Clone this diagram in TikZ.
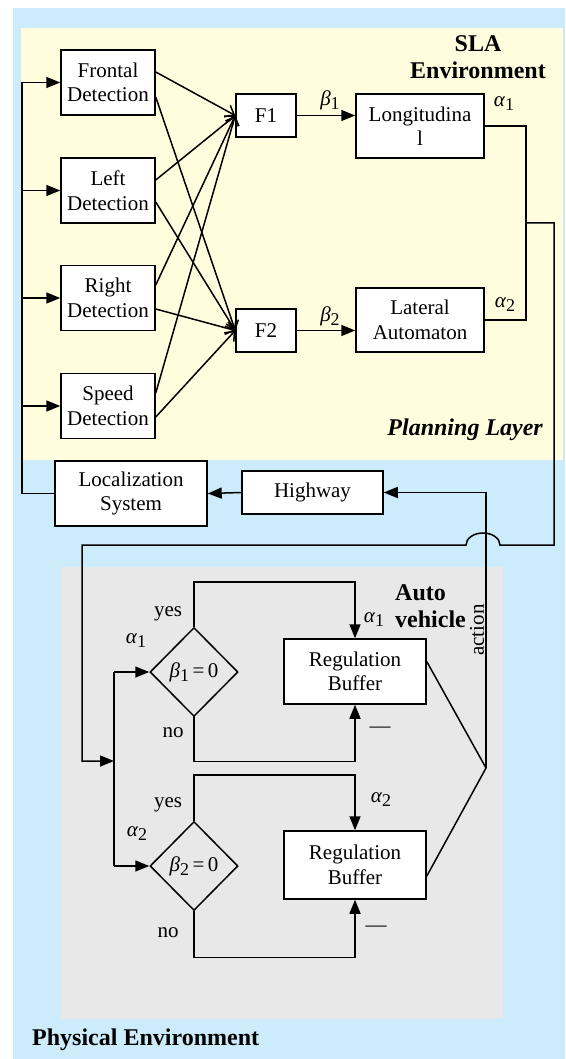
\documentclass[tikz,border=0pt]{standalone}
\usepackage{fontspec}
\setmainfont{Liberation Serif}
\usetikzlibrary{arrows.meta,shapes.geometric,calc}
\definecolor{bgblue}{RGB}{204,236,252}
\definecolor{bgyellow}{RGB}{255,253,221}
\definecolor{bggray}{RGB}{232,232,232}
\newcommand\gs[2]{\textit{#1}\raisebox{-4pt}{\fontsize{18}{18}\selectfont #2}}
\begin{document}
\begin{tikzpicture}[x=1pt,y=-1pt,
  txt/.style={font=\fontsize{21}{24.5}\selectfont, inner sep=0pt},
  blbl/.style={font=\fontsize{24}{27}\selectfont\bfseries, inner sep=0pt, align=center},
  box/.style={draw, fill=white, line width=1.5pt, align=center, inner sep=0pt,
              font=\fontsize{21}{24.5}\selectfont},
  dia/.style={diamond, draw, line width=1.5pt, inner sep=0pt,
              minimum width=88pt, minimum height=89pt, font=\fontsize{21}{24.5}\selectfont},
  wire/.style={line width=1.5pt},
  arr/.style={wire, -{Triangle[length=14pt,width=11pt]}},
  oarr/.style={wire, -{Straight Barb[length=8pt,width=13pt]}}
]
\path[use as bounding box] (0,0) rectangle (565,1059);
\fill[bgblue] (13,8) rectangle (565,1059);
\fill[bgyellow] (21,28) rectangle (563,460);
\fill[bggray] (61,567) rectangle (503,1019);

% boxes
\node[box, minimum width=94pt, minimum height=65pt] (front) at (108,82.5) {Frontal\\Detection};
\node[box, minimum width=94pt, minimum height=65pt] (left) at (108,190.5) {Left\\Detection};
\node[box, minimum width=94pt, minimum height=65pt] (right) at (108,298) {Right\\Detection};
\node[box, minimum width=94pt, minimum height=65pt] (speed) at (108,406) {Speed\\Detection};
\node[box, minimum width=60pt, minimum height=43pt] (f1) at (266,115.5) {F1};
\node[box, minimum width=60pt, minimum height=43pt] (f2) at (266,330.5) {F2};
\node[box, minimum width=128pt, minimum height=64pt] (long) at (420,126) {Longitudina\\l};
\node[box, minimum width=128pt, minimum height=64pt] (lat) at (420,320) {Lateral\\Automaton};
\node[box, minimum width=152pt, minimum height=65pt] (loc) at (131,493.5) {Localization\\System};
\node[box, minimum width=141pt, minimum height=43pt] (hw) at (312.5,492.5) {Highway};
\node[box, minimum width=142pt, minimum height=65pt] (rb1) at (355,671.5) {Regulation\\Buffer};
\node[box, minimum width=142pt, minimum height=68pt] (rb2) at (355,865) {Regulation\\Buffer};
\node[dia] (d1) at (194,672) {\gs{β}{1}\,=\,0};
\node[dia] (d2) at (194,866) {\gs{β}{2}\,=\,0};

% left bus
\coordinate (bx) at (22,0);
\draw[arr] (loc.west) -| (bx |- front.west) -- (front.west);
\draw[arr] (bx |- left.west) -- (left.west);
\draw[arr] (bx |- right.west) -- (right.west);
\draw[arr] (bx |- speed.west) -- (speed.west);

% detection -> fusion
\draw[oarr] ($(front.east)+(0,-10.5)$) -- (f1.west);
\draw[oarr] ($(front.east)+(0,14.5)$) -- (f2.west);
\draw[oarr] ($(left.east)+(0,-10.5)$) -- (f1.west);
\draw[oarr] ($(left.east)+(0,11.5)$) -- (f2.west);
\draw[oarr] ($(right.east)+(0,-13)$) -- (f1.west);
\draw[oarr] ($(right.east)+(0,11)$) -- (f2.west);
\draw[oarr] ($(speed.east)+(0,-13)$) -- (f1.west);
\draw[oarr] ($(speed.east)+(0,11)$) -- (f2.west);

% fusion -> automata
\draw[arr] (f1.east) -- (f1.east -| long.west);
\draw[arr] (f2.east) -- (f2.east -| lat.west);

% alpha outputs
\coordinate (jx) at (526,0);
\draw[wire] (long.east) -| (jx |- lat.east) -- (lat.east);
\coordinate (jm) at ($(jx |- long.east)!0.5!(jx |- lat.east)$);
\coordinate (feed) at (114,761);
\draw[arr] (jm) -- (554,0 |- jm) -- (554,545) -- (500,545)
  arc[start angle=0, end angle=-180, x radius=17, y radius=12]
  -- (82,545) -- (82,761) -- (feed);

% lower bus
\coordinate (lb) at (114,0);
\draw[wire] (lb |- d1.west) -- (lb |- d2.west);
\draw[arr] (lb |- d1.west) -- (d1.west);
\draw[arr] (lb |- d2.west) -- (d2.west);

% yes / no
\draw[arr] (d1.north) -- ++(0,-45) -| (rb1.north);
\draw[arr] (d1.south) -- ++(0,44) -| (rb1.south);
\draw[arr] (d2.north) -- ++(0,-46) -| (rb2.north);
\draw[arr] (d2.south) -- ++(0,46) -| (rb2.south);

% action
\coordinate (act) at (486,768);
\draw[wire] ($(rb1.north east)!0.35!(rb1.south east)$) -- (act) -- ($(rb2.north east)!0.66!(rb2.south east)$);
\draw[arr] (act) -- (act |- hw.east) -- (hw.east);
\draw[arr] (hw.west) -- (loc.east);

% labels
\node[txt, rotate=90] (actl) at (477,630) {action};
\node[txt] (b1) at (330,100) {\gs{β}{1}};
\node[txt] (b2) at (330,316) {\gs{β}{2}};
\node[txt] (a1t) at (504,104) {\gs{α}{1}};
\node[txt] (a2t) at (505,305) {\gs{α}{2}};
\node[txt] (yes1) at (168,614) {yes};
\node[txt] (no1) at (173,733) {no};
\node[txt] (yes2) at (168,805) {yes};
\node[txt] (no2) at (168,933) {no};
\node[txt] (a1l) at (136,641) {\gs{α}{1}};
\node[txt] (a2l) at (137,834) {\gs{α}{2}};
\node[txt] (a1r) at (374,620) {\gs{α}{1}};
\node[txt] (a2r) at (381,800) {\gs{α}{2}};
\node[txt] (m1) at (380,730) {—};
\node[txt] (m2) at (376,929) {—};

\node[blbl] (sla) at (478,57) {SLA\\Environment};
\node[blbl, font=\fontsize{24}{27}\selectfont\bfseries\itshape, anchor=east] (plan) at (543,430) {Planning Layer};
\node[blbl, align=left, anchor=west] (auto) at (395,606.5) {Auto\\vehicle};
\node[blbl, anchor=west] (phys) at (32,1040) {Physical Environment};
\end{tikzpicture}
\end{document}
